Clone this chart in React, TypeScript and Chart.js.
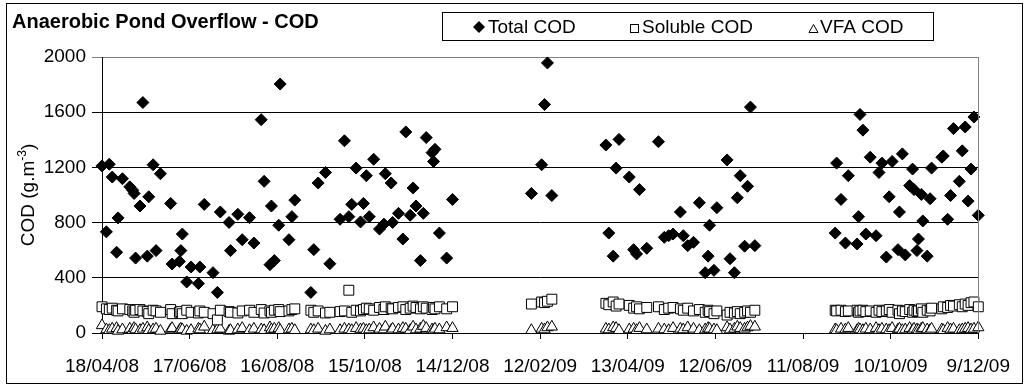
import React, { useEffect, useRef } from "react";
import { Chart, registerables } from "chart.js";

Chart.register(...registerables);

// Sampling dates, as days after 18/04/08 (first x-axis tick)
const START_DATE_UTC = Date.UTC(2008, 3, 18);
const sampleDay = [
  0, 3, 5, 7, 10, 11, 14, 19, 21, 22, 23, 26, 28, 31, 32, 35, 37, 40, 47, 48,
  53, 54, 55, 58, 61, 66, 67, 70, 76, 79, 81, 87, 88, 93, 96, 101, 104, 109, 111, 115,
  116, 118, 121, 122, 128, 130, 132,
  143, 145, 148, 153, 156, 163, 166, 169, 171, 174, 177, 179, 181, 183, 186, 190, 193, 194,
  198, 199, 203, 206, 208, 211, 213, 215, 218, 220, 222, 226, 227, 228, 231, 236, 240,
  294, 301, 303, 305, 308,
  345, 347, 350, 352, 354, 361, 364, 366, 368, 373, 381, 385, 388, 391, 396, 398, 401, 405,
  409, 413, 415, 416, 419, 421, 428, 430, 433, 435, 437, 440, 442, 444, 447,
  502, 503, 506, 509, 511, 517, 518, 519, 521, 523, 526, 530, 532, 534, 537, 539, 541, 545,
  546, 548, 550, 553, 555, 556, 558, 559, 561, 562, 565, 567, 568, 575, 576, 579, 581, 583,
  587, 589, 591, 593, 595, 597, 600,
];

const totalCOD = [
  1211, 733, 1223, 1130, 585, 834, 1118, 1059, 1035, 1011, 543, 920, 1670, 557, 987, 1219, 597, 1154, 939, 500,
  519, 597, 717, 370, 478, 358, 478, 932, 437, 294, 877, 801, 597, 860, 676, 836, 652, 1546, 1099, 495,
  920, 525, 781, 1804, 676, 843, 963,
  294, 604, 1087, 1163, 502, 824, 1393, 843, 932, 1195, 805, 939, 1140, 843, 1259, 753, 789, 1154,
  1087, 801, 867, 681, 1457, 853, 1051, 920, 525, 867, 1416, 1307, 1243, 1331, 724, 543, 968,
  1011, 1219, 1656, 1957, 996,
  1362, 724, 557, 1195, 1403, 1130, 604, 573, 1039, 614, 1386, 693, 705, 717, 877, 705, 633, 657,
  944, 437, 557, 781, 454, 908, 1254, 538, 437, 980, 1140, 629, 1063, 1637, 633,
  724, 1231, 968, 652, 1140, 645, 843, 1584, 1470, 717, 1274, 705, 1163, 1231, 550, 987, 1243, 604,
  877, 1298, 566, 1068, 1188, 1039, 597, 681, 1004, 812, 557, 973, 1195, 1274, 1283, 824, 996, 1481,
  1099, 1320, 1493, 956, 1188, 1565, 853,
];

const solubleCOD = [
  190, 175, 170, 180, 165, 160, 175, 170, 160, 150, 165, 170, 160, 155, 140, 165, 160, 150, 170, 140,
  150, 155, 140, 165, 150, 145, 160, 150, 140, 95, 165, 155, 150, 145, 160, 165, 150, 170, 145, 160,
  150, 165, 170, 155, 160, 170, 175,
  165, 150, 160, 145, 150, 155, 160, 310, 150, 165, 160, 170, 180, 175, 165, 185, 170, 190,
  180, 175, 185, 190, 170, 180, 195, 185, 175, 190, 180, 170, 185, 175, 190, 175, 190,
  210, 225, 220, 230, 245,
  215, 205, 225, 195, 210, 200, 180, 190, 175, 185, 190, 170, 180, 185, 175, 165, 180, 160,
  170, 150, 165, 155, 140, 160, 130, 150, 145, 155, 140, 150, 160, 150, 165,
  165, 160, 165, 155, 160, 165, 150, 160, 165, 155, 160, 150, 165, 155, 160, 170, 150, 165,
  140, 160, 155, 170, 150, 165, 155, 160, 175, 150, 165, 160, 180, 175, 190, 185, 200, 195,
  205, 190, 210, 200, 220, 225, 190,
];

const vfaCOD = [
  55, 25, 20, 30, 35, 15, 25, 30, 20, 35, 25, 20, 30, 40, 20, 25, 30, 15, 25, 35,
  20, 30, 25, 15, 20, 30, 25, 45, 20, 25, 30, 15, 20, 25, 35, 20, 30, 25, 20, 40,
  25, 30, 35, 20, 25, 30, 20,
  25, 20, 30, 15, 25, 20, 30, 25, 20, 35, 25, 30, 20, 25, 40, 30, 25, 45,
  20, 30, 25, 35, 30, 20, 45, 25, 30, 50, 35, 25, 20, 30, 25, 40, 35,
  20, 30, 25, 40, 45,
  30, 25, 40, 35, 20, 25, 30, 20, 35, 25, 30, 25, 20, 35, 30, 25, 40, 30,
  20, 25, 35, 30, 25, 20, 40, 25, 30, 45, 35, 30, 40, 50, 45,
  25, 20, 30, 25, 35, 20, 30, 25, 20, 30, 25, 35, 20, 30, 25, 20, 35, 25,
  30, 20, 25, 35, 20, 30, 25, 20, 30, 35, 25, 20, 30, 25, 20, 35, 25, 30,
  20, 25, 30, 35, 25, 30, 40,
];

const seriesNames = ["Total COD", "Soluble COD", "VFA COD"];
const chartTitle = "Anaerobic Pond Overflow - COD";
const xMinDay = 0;
const xMaxDay = 600;
const xStepDays = 60;
const yMin = 0;
const yMax = 2000;
const yStep = 400;

const FONT = "'Liberation Sans', Arial, sans-serif";

function formatDay(v: number): string {
  const d = new Date(START_DATE_UTC + v * 86400000);
  const dd = d.getUTCDate();
  const mm = String(d.getUTCMonth() + 1).padStart(2, "0");
  const yy = String(d.getUTCFullYear()).slice(2);
  return `${dd}/${mm}/${yy}`;
}

function toPoints(values: number[]) {
  return values.map((v, i) => ({ x: sampleDay[i], y: v }));
}

const decorPlugin = {
  id: "decor",
  afterDraw(chart: any) {
    const ctx = chart.ctx as CanvasRenderingContext2D;
    const area = chart.chartArea;
    ctx.save();
    // outer frame
    ctx.strokeStyle = "#000";
    ctx.lineWidth = 1;
    ctx.strokeRect(6.5, 3.5, 1016, 380);
    // plot area right border
    ctx.strokeStyle = "#808080";
    ctx.beginPath();
    ctx.moveTo(Math.round(area.right) + 0.5, area.top);
    ctx.lineTo(Math.round(area.right) + 0.5, area.bottom);
    ctx.stroke();

    // title
    ctx.fillStyle = "#000";
    ctx.font = `bold 20px ${FONT}`;
    ctx.textBaseline = "alphabetic";
    ctx.textAlign = "left";
    ctx.fillText(chartTitle, 12, 28);

    // legend box
    ctx.strokeStyle = "#000";
    ctx.lineWidth = 1;
    ctx.fillStyle = "#fff";
    ctx.fillRect(442, 12, 491, 28);
    ctx.strokeRect(442.5, 12.5, 491, 28);
    ctx.font = `19px ${FONT}`;
    ctx.fillStyle = "#000";
    // diamond
    ctx.beginPath();
    ctx.moveTo(479, 21);
    ctx.lineTo(485, 27);
    ctx.lineTo(479, 33);
    ctx.lineTo(473, 27);
    ctx.closePath();
    ctx.fill();
    ctx.fillText(seriesNames[0], 488, 33);
    // square
    ctx.fillStyle = "#fff";
    ctx.fillRect(630.5, 24.5, 8, 8);
    ctx.strokeRect(630.5, 24.5, 8, 8);
    ctx.fillStyle = "#000";
    ctx.fillText(seriesNames[1], 642, 33);
    // triangle
    ctx.beginPath();
    ctx.moveTo(813.5, 24.5);
    ctx.lineTo(818, 32.5);
    ctx.lineTo(809, 32.5);
    ctx.closePath();
    ctx.stroke();
    ctx.fillText(seriesNames[2], 820, 33);

    // y axis title with superscript
    const main = "COD (g.m";
    const sup = "-3";
    const close = ")";
    ctx.font = `19px ${FONT}`;
    const w1 = ctx.measureText(main).width;
    const w3 = ctx.measureText(close).width;
    ctx.font = `12px ${FONT}`;
    const w2 = ctx.measureText(sup).width;
    const total = w1 + w2 + w3;
    ctx.translate(34, (area.top + area.bottom) / 2);
    ctx.rotate(-Math.PI / 2);
    ctx.textBaseline = "alphabetic";
    let x0 = -total / 2;
    ctx.font = `19px ${FONT}`;
    ctx.fillText(main, x0, 0);
    x0 += w1;
    ctx.font = `12px ${FONT}`;
    ctx.fillText(sup, x0, -8);
    x0 += w2;
    ctx.font = `19px ${FONT}`;
    ctx.fillText(close, x0, 0);
    ctx.restore();
  },
};

export default function App() {
  const canvasRef = useRef<HTMLCanvasElement | null>(null);

  useEffect(() => {
    if (!canvasRef.current) return;
    const chart = new Chart(canvasRef.current, {
      type: "scatter",
      data: {
        datasets: [
          {
            label: seriesNames[0],
            data: toPoints(totalCOD),
            pointStyle: "rectRot",
            pointRadius: 6,
            pointBackgroundColor: "#000",
            pointBorderColor: "#000",
            pointBorderWidth: 1,
            clip: false,
          },
          {
            label: seriesNames[1],
            data: toPoints(solubleCOD),
            pointStyle: "rect",
            pointRadius: 7,
            pointBackgroundColor: "#fff",
            pointBorderColor: "#000",
            pointBorderWidth: 1,
            clip: false,
          },
          {
            label: seriesNames[2],
            data: toPoints(vfaCOD),
            pointStyle: "triangle",
            pointRadius: 6.5,
            pointBackgroundColor: "#fff",
            pointBorderColor: "#000",
            pointBorderWidth: 1,
            clip: false,
          },
        ],
      },
      options: {
        responsive: false,
        animation: false,
        devicePixelRatio: 1,
        layout: { padding: { left: 0, right: 35, top: 57, bottom: 0 } },
        plugins: {
          legend: { display: false },
          title: { display: false },
          tooltip: { enabled: false },
        },
        scales: {
          x: {
            type: "linear",
            min: xMinDay,
            max: xMaxDay,
            afterFit: (scale: any) => {
              scale.height = 52;
            },
            grid: {
              display: true,
              drawOnChartArea: false,
              drawTicks: true,
              tickLength: 6,
              color: "#000",
            },
            border: { display: true, color: "#000", width: 1 },
            ticks: {
              stepSize: xStepDays,
              autoSkip: false,
              maxRotation: 0,
              minRotation: 0,
              padding: 16,
              color: "#000",
              font: { family: FONT, size: 19 },
              callback: (v: any) => formatDay(Number(v)),
            },
          },
          y: {
            type: "linear",
            min: yMin,
            max: yMax,
            afterFit: (scale: any) => {
              scale.width = 102;
            },
            grid: {
              color: (c: any) => (c.tick && c.tick.value === yMax ? "#808080" : "#000"),
              tickLength: 10,
              drawTicks: true,
            },
            border: { display: true, color: "#000", width: 1 },
            ticks: {
              stepSize: yStep,
              padding: 6,
              color: "#000",
              font: { family: FONT, size: 19 },
              callback: (v: any) => String(v),
            },
          },
        },
      },
      plugins: [decorPlugin],
    });
    return () => chart.destroy();
  }, []);

  return (
    <div
      style={{
        position: "fixed",
        left: 0,
        top: 0,
        width: 1026,
        height: 385,
        background: "#fff",
      }}
    >
      <canvas ref={canvasRef} width={1026} height={385} style={{ display: "block" }} />
    </div>
  );
}
